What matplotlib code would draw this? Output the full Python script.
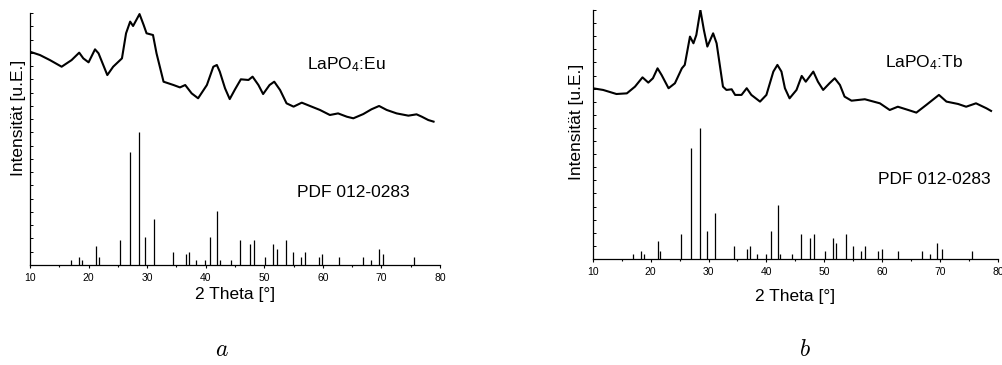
import matplotlib
matplotlib.use("Agg")
import matplotlib.pyplot as plt
from matplotlib.ticker import MultipleLocator

plt.rcParams["font.family"] = ["Liberation Sans", "DejaVu Sans"]
plt.rcParams["mathtext.fontset"] = "custom"
plt.rcParams["mathtext.rm"] = "Liberation Sans"
plt.rcParams["mathtext.it"] = "Liberation Sans:italic"

# Referenzlinien PDF 012-0283 (2 Theta, rel. Intensitaet)
pdf_pos = [17.0, 18.4, 18.9, 21.3, 21.7, 25.3, 27.0, 28.6, 29.7, 31.1,
           34.4, 36.7, 37.1, 38.3, 39.9, 40.8, 42.0, 42.4, 44.4, 45.9,
           47.5, 48.3, 50.2, 51.5, 52.1, 53.7, 54.9, 56.3, 57.0, 59.3,
           59.9, 62.8, 66.8, 68.3, 69.5, 70.3, 75.5]
pdf_int = [4, 6, 4, 14, 6, 19, 85, 100, 21, 35,
           10, 8, 10, 4, 4, 21, 41, 4, 4, 19,
           16, 19, 6, 16, 12, 19, 10, 6, 10, 6,
           8, 6, 6, 4, 12, 8, 6]

# gemessene Kurve LaPO4:Eu (mit Versatz)
eu_x = [10.0, 11.7, 13.4, 15.4, 17.1, 18.4, 19.1, 20.0, 21.1, 21.7,
        23.2, 24.2, 25.7, 26.4, 27.1, 27.6, 28.7, 29.4, 29.9, 31.0,
        31.6, 32.8, 34.5, 35.6, 36.5, 37.6, 38.7, 40.2, 41.3, 41.9,
        42.4, 43.3, 44.1, 45.0, 46.0, 47.3, 48.0, 49.0, 49.8, 50.9,
        51.7, 52.7, 53.8, 55.0, 56.4, 57.8, 59.5, 61.2, 62.6, 64.1,
        65.2, 66.9, 68.3, 69.6, 70.9, 72.6, 74.6, 76.0, 76.9, 78.0, 78.9]
eu_y = [160.8, 158.3, 154.5, 149.5, 154.5, 160.1, 155.8, 152.8, 162.6, 159.6,
        143.2, 149.5, 155.8, 174.7, 183.5, 180.2, 189.2, 181.0, 174.7, 173.4,
        159.6, 138.2, 135.7, 133.9, 135.7, 129.4, 125.7, 135.7, 149.5, 150.8,
        145.8, 133.2, 125.1, 132.4, 140.0, 139.5, 142.0, 135.7, 128.9, 135.7,
        138.2, 131.9, 121.9, 119.4, 122.4, 119.9, 116.9, 113.1, 114.3, 111.8,
        110.6, 113.8, 117.4, 119.9, 116.9, 114.3, 112.6, 113.6, 111.8, 109.3, 108.1]

# gemessene Kurve LaPO4:Tb (mit Versatz)
tb_x = [10.0, 11.8, 14.1, 15.9, 17.3, 18.6, 19.6, 20.4, 21.2, 21.9,
        23.1, 24.2, 25.4, 25.9, 26.8, 27.4, 27.9, 28.6, 29.2, 29.8,
        30.8, 31.4, 32.5, 33.1, 34.0, 34.6, 35.7, 36.6, 37.4, 38.9,
        40.0, 41.2, 41.9, 42.6, 43.2, 44.0, 45.2, 46.1, 46.8, 48.1,
        48.9, 49.8, 50.9, 51.8, 52.7, 53.5, 54.7, 57.0, 59.6, 61.3,
        62.7, 64.5, 65.9, 67.6, 69.8, 71.1, 73.1, 74.5, 76.2, 78.0, 78.8]
tb_y = [130.3, 129.0, 125.9, 126.4, 131.5, 138.6, 134.6, 137.9, 145.5, 140.4,
        130.3, 134.1, 145.5, 148.1, 169.7, 164.6, 171.0, 190.0, 174.8, 162.1,
        172.2, 164.6, 131.5, 129.0, 129.5, 125.2, 125.2, 130.3, 125.2, 120.1,
        125.2, 143.0, 148.1, 143.0, 130.3, 122.6, 129.0, 139.7, 135.3, 143.0,
        135.3, 129.0, 134.1, 137.9, 132.8, 123.9, 120.8, 121.9, 118.8, 113.7,
        116.2, 113.7, 111.7, 117.5, 125.2, 120.1, 118.3, 116.2, 118.8, 115.0, 113.0]

W, H = 1002, 365
fig = plt.figure(figsize=(W / 100, H / 100), dpi=100)
ax1 = fig.add_axes([30 / W, 100 / H, 410 / W, 252 / H])
ax2 = fig.add_axes([592.7 / W, 106 / H, 405.3 / W, 249 / H])

panels = [
    (ax1, eu_x, eu_y, "LaPO$_4$:Eu", (57.3, 150.8), (55.6, 55.0), (-0.01, 0.585), -0.087),
    (ax2, tb_x, tb_y, "LaPO$_4$:Tb", (60.5, 149.6), (59.3, 60.3), (-0.021, 0.55), -0.12),
]

for ax, cx, cy, name, name_xy, pdf_xy, ylab_xy, xlab_y in panels:
    ax.plot(cx, cy, color="black", lw=1.5)
    ax.vlines(pdf_pos, 0, pdf_int, color="black", lw=0.9)
    ax.set_xlim(10, 80)
    ax.set_ylim(0, 190)
    ax.spines["top"].set_visible(False)
    ax.spines["right"].set_visible(False)
    ax.spines["left"].set_linewidth(0.9)
    ax.spines["bottom"].set_linewidth(0.9)
    ax.xaxis.set_major_locator(MultipleLocator(10))
    ax.xaxis.set_minor_locator(MultipleLocator(5))
    ax.yaxis.set_major_locator(MultipleLocator(10))
    ax.tick_params(axis="x", which="major", direction="out", length=2.5, width=0.8,
                   labelsize=7.5, pad=3)
    ax.tick_params(axis="x", which="minor", direction="out", length=1.6, width=0.8)
    ax.tick_params(axis="y", direction="in", length=1.8, width=0.7, labelleft=False)
    ax.set_xlabel("2 Theta [°]", fontsize=12.5)
    ax.xaxis.set_label_coords(0.5, xlab_y)
    ax.set_ylabel("Intensität [u.E.]", fontsize=12.5)
    ax.yaxis.set_label_coords(*ylab_xy)
    ax.text(name_xy[0], name_xy[1], name, fontsize=12.5, ha="left", va="center")
    ax.text(pdf_xy[0], pdf_xy[1], "PDF 012-0283", fontsize=12.5, ha="left", va="center")

fig.text(222 / W, 1 - 350 / H, "$a$", fontsize=17, math_fontfamily="cm", ha="center", va="center")
fig.text(805 / W, 1 - 350 / H, "$b$", fontsize=17, math_fontfamily="cm", ha="center", va="center")

fig.savefig("out.png", dpi=100)
